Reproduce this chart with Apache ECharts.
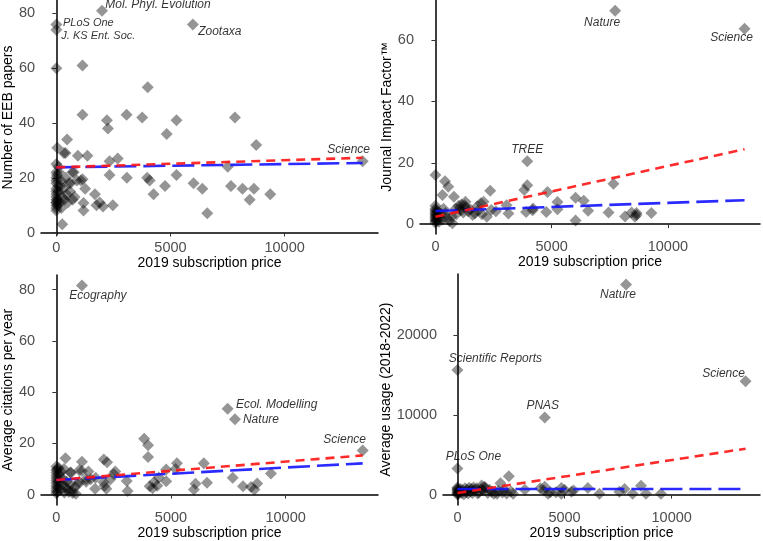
<!DOCTYPE html>
<html>
<head>
<meta charset="utf-8">
<script src="https://cdn.jsdelivr.net/npm/echarts@6/dist/echarts.min.js"></script>
<style>html,body{margin:0;padding:0;background:#fff}#c{width:763px;height:541px}</style>
</head>
<body>
<div id="c"></div>
<script>
// ---------- DATA ----------
const xTitle = '2019 subscription price';
const yTitles = ['Number of EEB papers', 'Journal Impact Factor\u2122', 'Average citations per year', 'Average usage (2018-2022)'];
const xTicks = [0, 5000, 10000];
const yTicks1 = [0, 20, 40, 60, 80];
const yTicks2 = [0, 20, 40, 60];
const yTicks3 = [0, 20, 40, 60, 80];
const yTicks4 = [0, 10000, 20000];

// Panel 1: EEB papers vs price
const p1LabelNames = ['Mol. Phyl. Evolution', 'PLoS One', 'J. KS Ent. Soc.', 'Zootaxa', 'Science'];
const p1LabelPts = [[2000,81],[0,76],[0,74],[5980,76],[13420,26]];
const p1Points = [[0,60],[1145,61],[4005,53],[1145,43],[3075,43],[3760,42],[7825,42],[2215,41],[5265,41],[2260,38],[4835,36],[470,34],[8755,32],[40,31],[330,29],[400,29],[944,28],[1360,28],[2690,27],[2330,26],[0,25],[7510,24],[760,22],[0,22],[1073,19],[1150,19.5],[2330,21],[3090,20],[3980,20],[4090,19],[5265,21],[6010,18],[545,18],[620,18],[4760,17],[7650,17],[1260,16],[6395,16],[8155,16],[8655,16],[1690,14],[4260,14],[9370,14],[717,12],[8470,12],[1190,10.8],[1760,10],[1900,11],[2045,9.5],[2475,10],[1190,8],[6610,7],[260,3],[0,19],[0,20],[0,18],[0,16],[0,15],[0,14],[0,13],[0,12],[0,11],[0,11],[0,10],[0,9],[0,8],[50,12],[80,17],[30,21],[100,15],[150,11],[120,22],[200,19],[250,13],[300,16],[60,10],[350,12],[400,20],[450,14],[500,11],[220,9],[180,17],[90,24],[600,15],[800,13],[900,19],[700,22]];
const p1FitX = [0, 13420];
const p1Red = [23.8, 27.3];
const p1Blue = [23.8, 25.4];

// Panel 2: Impact factor vs price
const p2LabelNames = ['Nature', 'Science', 'TREE'];
const p2LabelPts = [[7730,69.5],[13300,63.6],[3950,20.5]];
const p2Points = [[0,16],[410,14],[550,12.2],[300,9.5],[795,8.9],[2355,10.9],[1290,7.3],[1120,6.4],[2070,7.3],[1850,4.5],[1700,3.5],[2210,2.4],[3140,3.5],[3060,6.2],[3950,12.7],[3820,11.1],[4200,5.1],[4770,4],[4820,10.5],[7660,13.2],[6030,8.6],[6380,7.6],[5250,7.2],[5250,4.9],[6570,4.4],[7450,3.8],[8440,3.8],[8650,3.6],[9290,3.6],[8160,2.5],[8580,2.4],[8650,3.0],[6030,1.2],[3900,4],[4180,4.5],[0,0.5],[0,1],[0,1.5],[0,2],[0,2.5],[0,3],[0,3.5],[0,4],[0,4.5],[0,5],[0,6],[50,1.2],[80,2.8],[100,4.2],[150,0.8],[200,2],[250,3.3],[300,1.5],[350,5],[430,3.6],[500,2.2],[600,1],[730,0.3],[870,5],[1000,6],[1100,4.5],[1200,3.8],[1300,5.5],[1500,4.8],[1600,3],[1800,5.8],[2000,3.2],[2400,4.6],[2600,4.2],[700,2.5],[900,3.2],[1400,4.2],[1950,6.8],[1050,5.2],[1250,6.2]];
const p2FitX = [0, 13300];
const p2Red = [2.4, 24.4];
const p2Blue = [4.3, 7.8];

// Panel 3: citations vs price
const p3LabelNames = ['Ecography', 'Ecol. Modelling', 'Nature', 'Science'];
const p3LabelPts = [[1115,81.6],[7470,33.5],[7790,29.4],[13360,17.2]];
const p3Points = [[3830,21.8],[4000,19.3],[4000,14.7],[400,14.2],[1115,12.8],[2070,13.7],[2215,12.6],[5260,12.2],[6430,12.2],[0,11],[100,10.5],[640,8.5],[1115,9.2],[2570,9],[2500,8],[4790,9.8],[5200,10],[9360,8.2],[1715,6.6],[7690,6.6],[1290,6],[2360,6],[3070,5.3],[4790,5.2],[4260,4.8],[6570,4.6],[6070,4.2],[8760,4.3],[4070,3.3],[8140,3.3],[8490,3.0],[8640,2],[6000,2],[1690,2.3],[2180,2.3],[3110,1.4],[715,0.6],[330,10],[610,8.6],[1000,9.5],[1400,9],[2060,4.8],[2100,3.5],[1300,5],[1500,6],[950,4],[1000,5],[690,1.5],[850,0.3],[4400,3.5],[4470,6.7],[4200,2.5],[0,0.5],[0,1.5],[0,2.5],[0,3.5],[0,4.5],[0,5.5],[0,6.5],[0,7.5],[0,8.5],[0,9.5],[50,1],[80,3],[100,5],[150,7],[200,2],[250,4],[300,6],[350,0.8],[400,3],[450,5],[500,2],[550,1],[30,10],[120,8],[200,9],[600,4],[800,3]];
const p3FitX = [0, 13360];
const p3Red = [5.7, 15.3];
const p3Blue = [5.7, 12.2];

// Panel 4: usage vs price
const p4LabelNames = ['Nature', 'Scientific Reports', 'Science', 'PNAS', 'PLoS One'];
const p4LabelPts = [[7870,26400],[0,15670],[13450,14230],[4075,9690],[0,3290]];
const p4Points = [[2400,2300],[2010,1440],[8570,1110],[4850,820],[6090,820],[7800,700],[4075,1000],[3145,600],[1130,1150],[5320,350],[6630,120],[7560,350],[8180,120],[8800,120],[9500,120],[4850,100],[4230,100],[2600,100],[1850,100],[3870,800],[4030,500],[4340,300],[4600,300],[5000,600],[5420,500],[0,0],[0,150],[0,300],[0,450],[0,600],[0,750],[0,900],[50,100],[100,400],[150,700],[200,200],[250,500],[300,50],[350,800],[400,300],[450,600],[500,150],[550,850],[600,400],[700,200],[800,600],[900,800],[1000,300],[1100,700],[1200,500],[1300,900],[1420,200],[1500,600],[1600,350],[1700,100],[1900,450],[2100,250],[2200,600],[2300,150],[2500,400],[650,700],[750,900],[950,150],[1250,1000]];
const p4FitX = [0, 13450];
const p4Red = [200, 5770];
const p4Blue = [700, 700];

// ---------- LAYOUT / STYLE ----------
const grids = [
  {left: 35, top: 0, width: 343, height: 235},
  {left: 420, top: 0, width: 340, height: 234},
  {left: 35, top: 275, width: 343, height: 233},
  {left: 443, top: 274, width: 317, height: 235}
];
const xRanges = [[-671, 14091], [-665, 13965], [-668, 14028], [-673, 14123]];
const yRanges = [[-0.9, 84.9], [-3.2, 73.0], [-4.1, 85.7], [-1320, 27720]];
const yTickSets = [yTicks1, yTicks2, yTicks3, yTicks4];
const yNameGaps = [19, 20, 19, 45];
const labelOffsets = [
  [[56,-6],[32,-1],[42,6],[27,7],[-14,-12]],
  [[-13,12],[-13,9],[0,-12]],
  [[16,10],[49,-4],[26,0],[-18,-11]],
  [[-8,10],[38,-11],[-22,-8],[-2,-12],[16,-12]]
];
const panels = [
  {pts: p1Points, lp: p1LabelPts, ln: p1LabelNames, fx: p1FitX, red: p1Red, blue: p1Blue},
  {pts: p2Points, lp: p2LabelPts, ln: p2LabelNames, fx: p2FitX, red: p2Red, blue: p2Blue},
  {pts: p3Points, lp: p3LabelPts, ln: p3LabelNames, fx: p3FitX, red: p3Red, blue: p3Blue},
  {pts: p4Points, lp: p4LabelPts, ln: p4LabelNames, fx: p4FitX, red: p4Red, blue: p4Blue}
];
const FONT = 'Liberation Sans, Arial, Helvetica, sans-serif';
const DIAMOND = 'path://M0,-1L1,0L0,1L-1,0Z';
const axisLine = {show: true, lineStyle: {color: '#000', width: 1.5}};
const axisTick = (vals) => ({show: true, inside: false, length: 4, lineStyle: {color: '#333', width: 1}, customValues: vals});
const axisLabel = (vals, m) => ({show: true, color: '#4d4d4d', fontSize: 14.5, fontFamily: FONT, margin: m,
  customValues: vals, formatter: (v) => String(v)});

const xAxes = [], yAxes = [], series = [];
panels.forEach((p, i) => {
  xAxes.push({
    type: 'value', gridIndex: i, min: xRanges[i][0], max: xRanges[i][1],
    axisLine, axisTick: axisTick(xTicks), axisLabel: axisLabel(xTicks, 5),
    splitLine: {show: false},
    name: xTitle, nameLocation: 'middle', nameGap: 12,
    nameTextStyle: {color: '#000', fontSize: 14, fontFamily: FONT}
  });
  yAxes.push({
    type: 'value', gridIndex: i, min: yRanges[i][0], max: yRanges[i][1],
    axisLine, axisTick: axisTick(yTickSets[i]), axisLabel: axisLabel(yTickSets[i], 6),
    splitLine: {show: false},
    name: yTitles[i], nameLocation: 'middle', nameGap: yNameGaps[i],
    nameTextStyle: {color: '#000', fontSize: 14, fontFamily: FONT}
  });
  series.push({
    type: 'scatter', xAxisIndex: i, yAxisIndex: i, symbol: DIAMOND, symbolSize: [12, 12],
    symbolKeepAspect: true,
    itemStyle: {color: 'rgba(0,0,0,0.52)'}, silent: true, z: 2,
    data: p.pts.concat(p.lp)
  });
  series.push({
    type: 'line', xAxisIndex: i, yAxisIndex: i, showSymbol: false, silent: true, z: 3,
    data: [[p.fx[0], p.blue[0]], [p.fx[1], p.blue[1]]],
    lineStyle: {color: 'rgba(20,20,255,0.9)', width: 2.6, type: [22, 7]}
  });
  series.push({
    type: 'line', xAxisIndex: i, yAxisIndex: i, showSymbol: false, silent: true, z: 4,
    data: [[p.fx[0], p.red[0]], [p.fx[1], p.red[1]]],
    lineStyle: {color: 'rgba(255,20,20,0.9)', width: 2.6, type: [9, 6]}
  });
  series.push({
    type: 'scatter', xAxisIndex: i, yAxisIndex: i, symbolSize: 0, silent: true, z: 5,
    data: p.lp.map((v, k) => ({
      value: v, name: p.ln[k],
      label: {show: true, formatter: '{b}', position: 'inside', offset: labelOffsets[i][k],
        fontStyle: 'italic', fontFamily: FONT,
        fontSize: (i === 0 && (k === 1 || k === 2)) ? 11 : 12, color: '#000'}
    }))
  });
});

const chart = echarts.init(document.getElementById('c'), null, {renderer: 'canvas'});
chart.setOption({
  animation: false,
  backgroundColor: '#fff',
  grid: grids.map(g => Object.assign({containLabel: false}, g)),
  xAxis: xAxes, yAxis: yAxes, series
});
</script>
</body>
</html>
